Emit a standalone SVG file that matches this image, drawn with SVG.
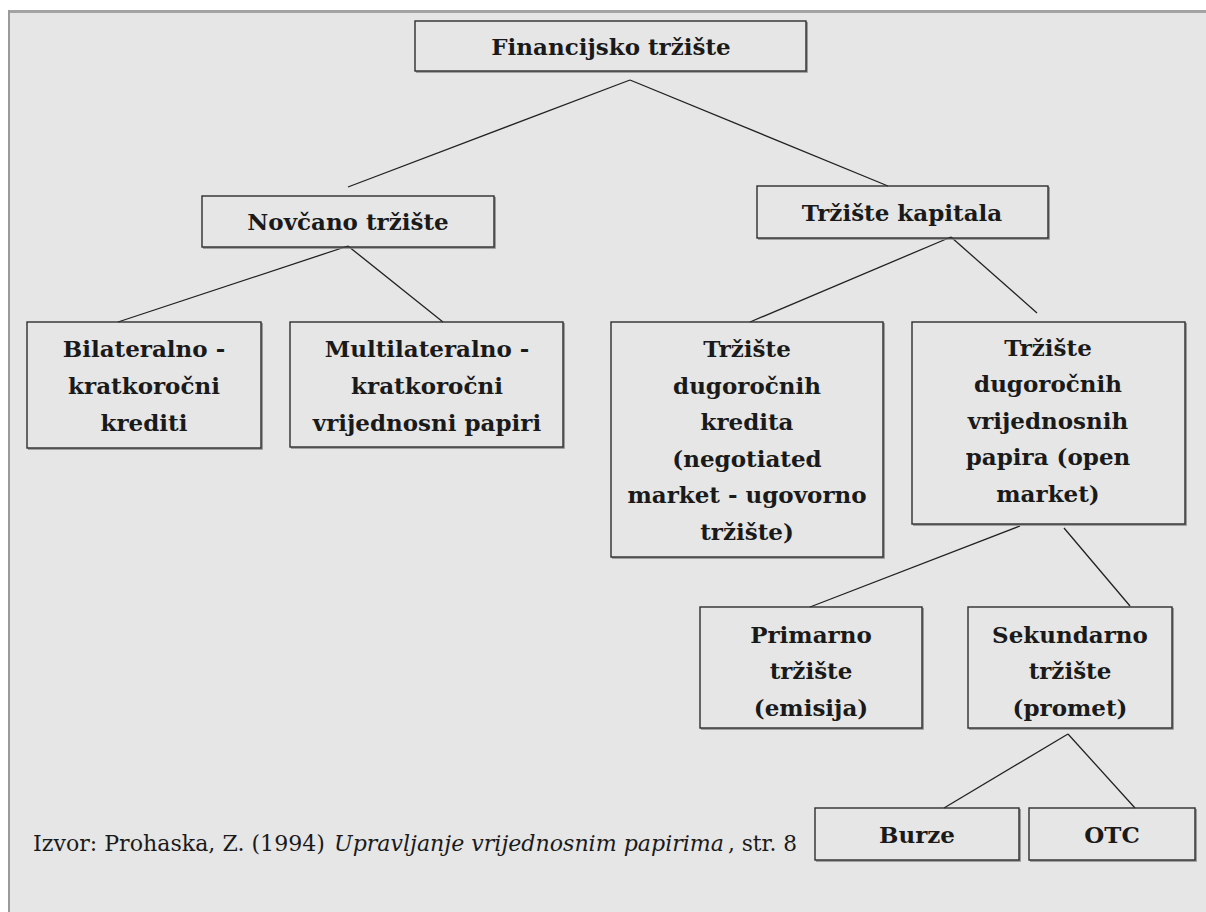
<svg xmlns="http://www.w3.org/2000/svg" width="1206" height="912" viewBox="0 0 1206 912">
<style>
.box{fill:none;stroke:#2e2e2e;stroke-width:1.4}
.sh{fill:none;stroke:#8a8a8a;stroke-width:1.6}
.t{font-family:'DejaVu Serif','Liberation Serif',serif;font-weight:bold;font-size:23px;fill:#1a1a1a;text-anchor:middle}
.c{font-family:'DejaVu Serif','Liberation Serif',serif;font-size:22.5px;fill:#1a1a1a}
.ln{stroke:#222;stroke-width:1.3;fill:none}
</style>
<rect x="0" y="0" width="1206" height="912" fill="#ffffff"/>
<rect x="8" y="10" width="1198" height="902" fill="#e6e6e6"/>
<line x1="8" y1="11.5" x2="1206" y2="11.5" stroke="#a3a3a3" stroke-width="3"/>
<line x1="9" y1="10" x2="9" y2="912" stroke="#9a9a9a" stroke-width="2"/>

<g id="connectors">
<line class="ln" x1="630" y1="80" x2="348" y2="187"/>
<line class="ln" x1="630" y1="80" x2="888" y2="186"/>
<line class="ln" x1="348" y1="246" x2="118" y2="322"/>
<line class="ln" x1="348" y1="246" x2="443" y2="322"/>
<line class="ln" x1="951" y1="237" x2="750" y2="322"/>
<line class="ln" x1="951" y1="237" x2="1037" y2="313"/>
<line class="ln" x1="1020" y1="526" x2="810" y2="607"/>
<line class="ln" x1="1064" y1="528" x2="1130" y2="606"/>
<line class="ln" x1="1068" y1="734" x2="944" y2="808"/>
<line class="ln" x1="1068" y1="734" x2="1135" y2="808"/>
</g>

<g id="n-financijsko">
<polyline class="sh" points="807,22 807,72 416,72"/>
<rect class="box" x="415" y="21" width="391" height="50"/>
<text class="t" x="611" y="55">Financijsko tržište</text>
</g>

<g id="n-novcano">
<polyline class="sh" points="495,197 495,248 203,248"/>
<rect class="box" x="202" y="196" width="292" height="51"/>
<text class="t" x="348" y="230">Novčano tržište</text>
</g>

<g id="n-kapital">
<polyline class="sh" points="1049,187 1049,239 758,239"/>
<rect class="box" x="757" y="186" width="291" height="52"/>
<text class="t" x="902" y="221">Tržište kapitala</text>
</g>

<g id="n-bilateralno">
<polyline class="sh" points="262,323 262,449 28,449"/>
<rect class="box" x="27" y="322" width="234" height="126"/>
<text class="t" x="144" y="357">Bilateralno -</text>
<text class="t" x="144" y="394">kratkoročni</text>
<text class="t" x="144" y="431">krediti</text>
</g>

<g id="n-multilateralno">
<polyline class="sh" points="564,323 564,448 291,448"/>
<rect class="box" x="290" y="322" width="273" height="125"/>
<text class="t" x="427" y="357">Multilateralno -</text>
<text class="t" x="427" y="394">kratkoročni</text>
<text class="t" x="427" y="431">vrijednosni papiri</text>
</g>

<g id="n-krediti">
<polyline class="sh" points="884,323 884,558 612,558"/>
<rect class="box" x="611" y="322" width="272" height="235"/>
<text class="t" x="747" y="357">Tržište</text>
<text class="t" x="747" y="394">dugoročnih</text>
<text class="t" x="747" y="430">kredita</text>
<text class="t" x="747" y="467">(negotiated</text>
<text class="t" x="747" y="503">market - ugovorno</text>
<text class="t" x="747" y="540">tržište)</text>
</g>

<g id="n-vrijednosni">
<polyline class="sh" points="1186,323 1186,525 913,525"/>
<rect class="box" x="912" y="322" width="273" height="202"/>
<text class="t" x="1048" y="356">Tržište</text>
<text class="t" x="1048" y="392">dugoročnih</text>
<text class="t" x="1048" y="429">vrijednosnih</text>
<text class="t" x="1048" y="465">papira (open</text>
<text class="t" x="1048" y="502">market)</text>
</g>

<g id="n-primarno">
<polyline class="sh" points="923,608 923,729 701,729"/>
<rect class="box" x="700" y="607" width="222" height="121"/>
<text class="t" x="811" y="643">Primarno</text>
<text class="t" x="811" y="679">tržište</text>
<text class="t" x="811" y="716">(emisija)</text>
</g>

<g id="n-sekundarno">
<polyline class="sh" points="1173,608 1173,729 969,729"/>
<rect class="box" x="968" y="607" width="204" height="121"/>
<text class="t" x="1070" y="643">Sekundarno</text>
<text class="t" x="1070" y="679">tržište</text>
<text class="t" x="1070" y="716">(promet)</text>
</g>

<g id="n-burze">
<polyline class="sh" points="1020,809 1020,861 816,861"/>
<rect class="box" x="815" y="808" width="204" height="52"/>
<text class="t" x="917" y="843">Burze</text>
</g>

<g id="n-otc">
<polyline class="sh" points="1196,809 1196,861 1030,861"/>
<rect class="box" x="1029" y="808" width="166" height="52"/>
<text class="t" x="1112" y="843">OTC</text>
</g>

<g id="caption">
<text class="c" x="33" y="851" textLength="292" lengthAdjust="spacingAndGlyphs">Izvor: Prohaska, Z. (1994)</text>
<text class="c" x="334" y="851" textLength="390" lengthAdjust="spacingAndGlyphs" font-style="italic">Upravljanje vrijednosnim papirima</text>
<text class="c" x="728" y="851" textLength="69" lengthAdjust="spacingAndGlyphs">, str. 8</text>
</g>
</svg>
